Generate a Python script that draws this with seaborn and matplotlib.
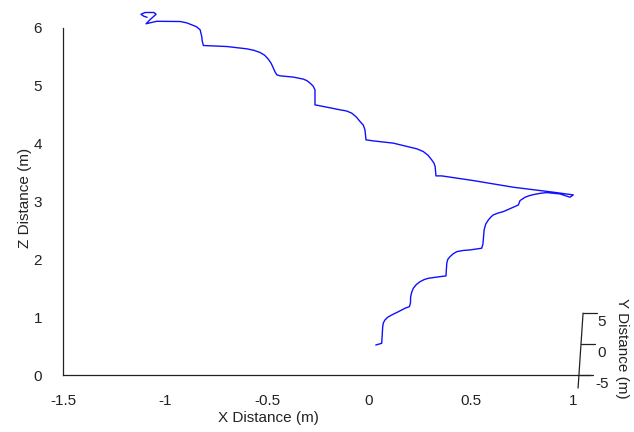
import numpy as np
import pandas as pd
import seaborn as sns
import matplotlib
matplotlib.use('Agg')
import matplotlib.pyplot as plt

# trajectory (metres), from the start point near the floor
x_dist = [0.033, 0.062, 0.067, 0.070, 0.078, 0.092, 0.111, 0.144, 0.176, 0.198,
          0.203, 0.204, 0.209, 0.217, 0.232, 0.250, 0.270, 0.291, 0.348, 0.377,
          0.381, 0.386, 0.397, 0.412, 0.430, 0.460, 0.495, 0.552, 0.558, 0.560,
          0.564, 0.572, 0.585, 0.598, 0.609, 0.632, 0.658, 0.707, 0.732, 0.740,
          0.765, 0.785, 0.805, 0.840, 0.871, 0.936, 0.985, 1.001, 0.903, 0.707,
          0.511, 0.356, 0.328, 0.324, 0.318, 0.307, 0.289, 0.266, 0.235, 0.201,
          0.119, 0.021, -0.015, -0.020, -0.028, -0.044, -0.062, -0.085, -0.110, -0.142,
          -0.207, -0.265, -0.265, -0.274, -0.289, -0.305, -0.322, -0.371, -0.436, -0.452,
          -0.462, -0.469, -0.480, -0.494, -0.512, -0.534, -0.565, -0.600, -0.698, -0.812,
          -0.818, -0.820, -0.828, -0.845, -0.869, -0.895, -0.926, -1.041, -1.093, -1.074,
          -1.044, -1.054, -1.098, -1.118, -1.103, -1.088]
z_dist = [0.519, 0.548, 0.836, 0.900, 0.952, 1.000, 1.038, 1.095, 1.154, 1.182,
          1.250, 1.355, 1.430, 1.500, 1.565, 1.614, 1.650, 1.673, 1.701, 1.713,
          1.933, 2.000, 2.047, 2.095, 2.133, 2.153, 2.163, 2.192, 2.260, 2.336,
          2.509, 2.610, 2.682, 2.735, 2.768, 2.800, 2.825, 2.901, 2.941, 3.016,
          3.074, 3.100, 3.119, 3.142, 3.154, 3.131, 3.074, 3.114, 3.161, 3.247,
          3.362, 3.443, 3.443, 3.604, 3.665, 3.720, 3.800, 3.863, 3.910, 3.939,
          4.009, 4.048, 4.066, 4.239, 4.320, 4.382, 4.460, 4.528, 4.565, 4.585,
          4.631, 4.671, 4.931, 4.995, 5.047, 5.090, 5.116, 5.151, 5.173, 5.190,
          5.250, 5.306, 5.390, 5.462, 5.530, 5.576, 5.615, 5.640, 5.680, 5.697,
          5.780, 5.853, 5.969, 6.020, 6.055, 6.090, 6.112, 6.116, 6.073, 6.142,
          6.237, 6.268, 6.268, 6.237, 6.202, 6.185]

x_ticks = [-1.5, -1, -0.5, 0, 0.5, 1]
x_tick_labels = ['-1.5', '-1', '-0.5', '0', '0.5', '1']
z_ticks = [0, 1, 2, 3, 4, 5, 6]
y_ticks = [-5, 0, 5]

traj = pd.DataFrame({'x': x_dist, 'z': z_dist})

sns.set_style('white')
plt.rcParams['font.family'] = ['Liberation Sans', 'DejaVu Sans']

ink = '#222222'
fig = plt.figure(figsize=(6.34, 4.32), dpi=100)
ax = fig.add_axes([0.0994, 0.1319, 0.8312, 0.8033])

sns.lineplot(data=traj, x='x', y='z', sort=False, estimator=None,
             color='#1010ff', lw=1.0, clip_on=False, ax=ax,
             solid_joinstyle='round')

ax.set_xlim(-1.5, 1.083)
ax.set_ylim(0, 6)
ax.set_xticks(x_ticks)
ax.set_xticklabels(x_tick_labels)
ax.set_yticks(z_ticks)
for s in ['top', 'right']:
    ax.spines[s].set_visible(False)
for s in ['left', 'bottom']:
    ax.spines[s].set_color(ink)
    ax.spines[s].set_linewidth(0.9)
ax.tick_params(axis='x', direction='out', length=9.5, width=0.8, color=ink,
               labelsize=11, labelcolor=ink, pad=4)
ax.tick_params(axis='y', direction='out', length=9, width=0.8, color=ink,
               labelsize=11, labelcolor=ink, pad=6)

ax.set_xlabel('X Distance (m)', fontsize=11, color=ink)
ax.xaxis.set_label_coords(0.389, -0.105)
ax.set_ylabel('Z Distance (m)', fontsize=11, color=ink)
ax.yaxis.set_label_coords(-0.058, 0.51)

# small depth (Y) axis drawn in the lower right corner
def y_axis_pos(y):
    z = (y + 5) * 0.107
    x = 1.0245 + (z + 0.225) / 1.295 * 0.0245
    return x, z

xb, zb = y_axis_pos(-7.1)
xt, zt = y_axis_pos(5)
ax.plot([xb, xt], [zb, zt], color=ink, lw=0.9, clip_on=False)
for yv in y_ticks:
    xp, zp = y_axis_pos(yv)
    ax.plot([xp, xp + 0.07], [zp, zp], color=ink, lw=0.9, clip_on=False)
    ax.text(1.142, zp - 0.15, str(yv), ha='center', va='center',
            fontsize=11, color=ink, clip_on=False)
ax.text(1.240, 0.467, 'Y Distance (m)', rotation=-90, ha='center', va='center',
        fontsize=11, color=ink, clip_on=False)

fig.savefig('out.png', dpi=100)
